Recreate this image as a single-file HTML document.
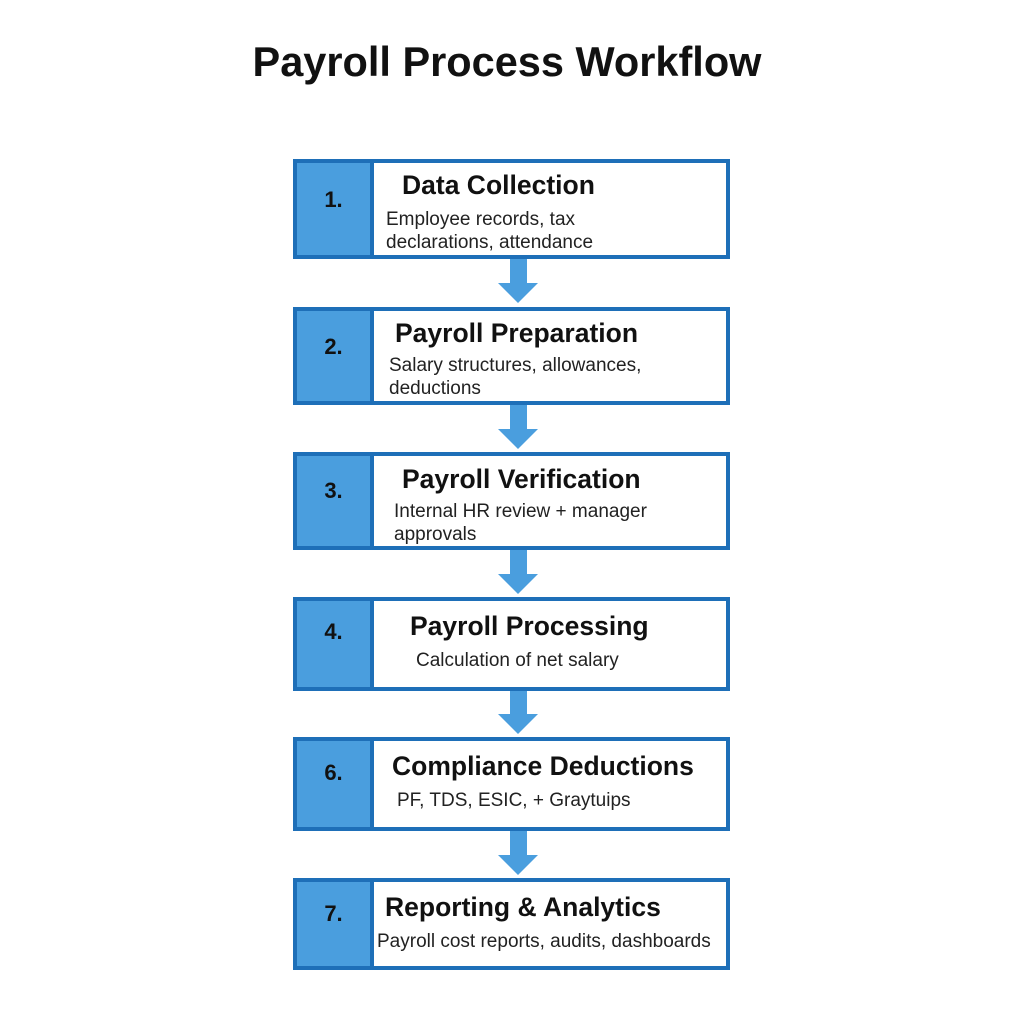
<!DOCTYPE html>
<html><head><style>
body{margin:0;width:1024px;height:1024px;background:#fff;position:relative;font-family:"Liberation Sans",sans-serif;overflow:hidden}
.t{position:absolute;top:38px;left:0;width:1014px;text-align:center;font-weight:bold;font-size:41.5px;color:#111}
.b{position:absolute;left:293px;width:437px;box-sizing:border-box;border:4px solid #1e6fb8;background:#fff}
.n{position:absolute;left:0;top:0;width:73px;background:#4a9ede;border-right:4px solid #1e6fb8;font-weight:bold;font-size:22px;color:#111;text-align:center;height:100%}
.n span{position:absolute;left:0;width:73px;text-align:center}
.h{position:absolute;font-weight:bold;font-size:26.5px;color:#111;white-space:nowrap}
.d{position:absolute;font-size:19px;color:#222;line-height:23px;white-space:nowrap}
</style></head><body>
<div class="t">Payroll Process Workflow</div>

<div class="b" style="top:159px;height:100px"><div class="n"><span style="top:24px">1.</span></div><div class="h" style="left:105px;top:7px">Data Collection</div><div class="d" style="left:89px;top:45px">Employee records, tax<br>declarations, attendance</div></div>
<div class="b" style="top:307px;height:98px"><div class="n"><span style="top:23px">2.</span></div><div class="h" style="left:98px;top:7px">Payroll Preparation</div><div class="d" style="left:92px;top:43px">Salary structures, allowances,<br>deductions</div></div>
<div class="b" style="top:452px;height:98px"><div class="n"><span style="top:22px">3.</span></div><div class="h" style="left:105px;top:8px">Payroll Verification</div><div class="d" style="left:97px;top:44px">Internal HR review + manager<br>approvals</div></div>
<div class="b" style="top:597px;height:94px"><div class="n"><span style="top:18px">4.</span></div><div class="h" style="left:113px;top:10px">Payroll Processing</div><div class="d" style="left:119px;top:48px">Calculation of net salary</div></div>
<div class="b" style="top:737px;height:94px"><div class="n"><span style="top:19px">6.</span></div><div class="h" style="left:95px;top:10px">Compliance Deductions</div><div class="d" style="left:100px;top:48px">PF, TDS, ESIC, + Graytuips</div></div>
<div class="b" style="top:878px;height:92px"><div class="n"><span style="top:19px">7.</span></div><div class="h" style="left:88px;top:10px">Reporting &amp; Analytics</div><div class="d" style="left:80px;top:48px">Payroll cost reports, audits, dashboards</div></div>

<svg width="1024" height="1024" style="position:absolute;left:0;top:0">
<g fill="#4a9ede">
<path d="M510 259H527V283H538L518 303L498 283H510Z"/>
<path d="M510 405H527V429H538L518 449L498 429H510Z"/>
<path d="M510 550H527V574H538L518 594L498 574H510Z"/>
<path d="M510 691H527V714H538L518 734L498 714H510Z"/>
<path d="M510 831H527V855H538L518 875L498 855H510Z"/>
</g></svg>
</body></html>
